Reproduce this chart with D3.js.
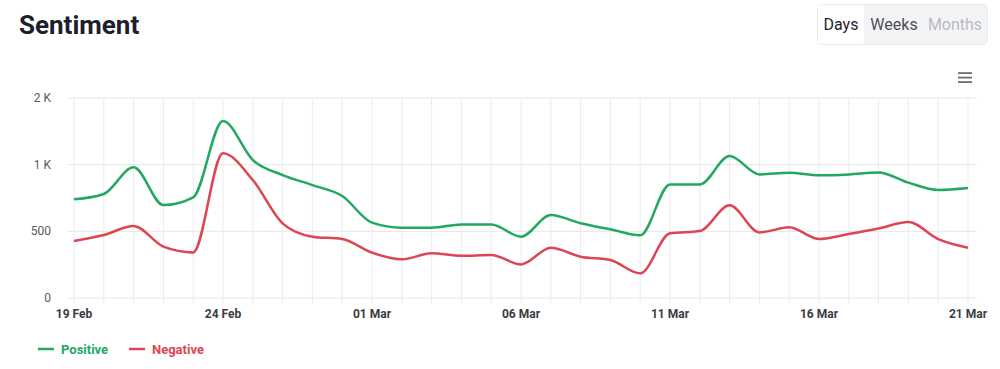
<!DOCTYPE html>
<html><head><meta charset="utf-8">
<script src="https://cdn.jsdelivr.net/npm/d3@7"></script>
<style>
body{margin:0;background:#fff;font-family:Roboto,"Noto Sans",sans-serif;}
svg{display:block;}
</style></head>
<body><svg id="c" width="1000" height="369"></svg>
<script>
const dates = ["19 Feb","20 Feb","21 Feb","22 Feb","23 Feb","24 Feb","25 Feb","26 Feb","27 Feb","28 Feb",
"01 Mar","02 Mar","03 Mar","04 Mar","05 Mar","06 Mar","07 Mar","08 Mar","09 Mar","10 Mar",
"11 Mar","12 Mar","13 Mar","14 Mar","15 Mar","16 Mar","17 Mar","18 Mar","19 Mar","20 Mar","21 Mar"];
const positive = [740,780,980,697,755,1328,1035,922,847,765,
565,527,527,552,552,460,622,560,515,470,
852,852,1065,927,940,920,927,942,865,810,825];
const negative = [427,472,540,385,342,1085,885,560,460,442,
340,290,335,317,322,252,377,310,285,185,
485,502,695,492,530,442,480,522,570,442,377];
const yTicks = [0,500,1000,1500];
const yTickLabels = ["0","500","1 K","2 K"];
const xLabelDates = ["19 Feb","24 Feb","01 Mar","06 Mar","11 Mar","16 Mar","21 Mar"];
const seriesNames = ["Positive","Negative"];
const seriesColors = ["#22a861","#dc4653"];

const svg = d3.select("#c");
const x = d3.scalePoint().domain(dates).range([74,968]);
const y = d3.scaleLinear().domain([0,1500]).range([298,98]);

// title
svg.append("text").attr("x",19).attr("y",34).attr("font-size",26).attr("font-weight",700)
  .attr("fill","#1c1f2e").text("Sentiment");

// buttons
const bg = svg.append("g");
bg.append("rect").attr("x",817.5).attr("y",4.5).attr("width",170).attr("height",40).attr("rx",5)
  .attr("fill","#f3f4f6").attr("stroke","#e8e9ec");
bg.append("rect").attr("x",818).attr("y",5).attr("width",46).attr("height",39).attr("rx",4).attr("fill","#fff");
[["Days",841,"#1f2430"],["Weeks",894,"#4b4f58"],["Months",955,"#b9bcc2"]].forEach(b=>{
  bg.append("text").attr("x",b[1]).attr("y",30).attr("text-anchor","middle").attr("font-size",16)
    .attr("fill",b[2]).text(b[0]);
});

// hamburger
[73,77.5,82].forEach(yy=>svg.append("rect").attr("x",958).attr("y",yy-0.8).attr("width",14).attr("height",1.8).attr("fill","#6e6e6e"));

// grid
const g = svg.append("g");
g.selectAll(".hg").data(yTicks).join("line").attr("x1",67).attr("x2",977)
  .attr("y1",d=>y(d)).attr("y2",d=>y(d)).attr("stroke","#e6e6e6").attr("stroke-width",1);
g.selectAll(".vg").data(dates).join("line").attr("x1",d=>x(d)).attr("x2",d=>x(d))
  .attr("y1",98).attr("y2",304).attr("stroke","#ececec").attr("stroke-width",1);

// y axis labels
svg.selectAll(".yl").data(yTicks).join("text").attr("x",51).attr("y",d=>y(d)+4)
  .attr("text-anchor","end").attr("font-size",12).attr("fill","#555a60")
  .text((d,i)=>yTickLabels[i]);

// x labels
svg.selectAll(".xl").data(xLabelDates).join("text").attr("x",d=>x(d)).attr("y",318)
  .attr("text-anchor","middle").attr("font-size",12).attr("font-weight",700).attr("fill","#3a3d42")
  .text(d=>d);

// lines
const line = d3.line().x((d,i)=>x(dates[i])).y(d=>y(d)).curve(d3.curveMonotoneX);
[positive,negative].forEach((s,i)=>{
  svg.append("path").datum(s).attr("d",line).attr("fill","none")
    .attr("stroke",seriesColors[i]).attr("stroke-width",2.5).attr("stroke-linejoin","round");
});

// legend
const lx = [38,129];
seriesNames.forEach((n,i)=>{
  svg.append("line").attr("x1",lx[i]).attr("x2",lx[i]+16).attr("y1",349).attr("y2",349)
    .attr("stroke",seriesColors[i]).attr("stroke-width",2.5);
  svg.append("text").attr("x",lx[i]+23).attr("y",353.5).attr("font-size",13).attr("font-weight",700)
    .attr("fill",seriesColors[i]).text(n);
});
</script></body></html>
